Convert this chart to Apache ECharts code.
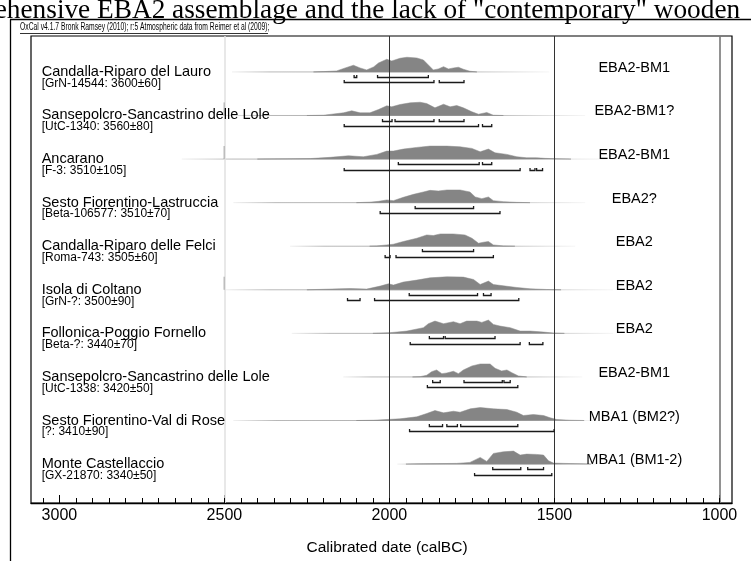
<!DOCTYPE html>
<html><head><meta charset="utf-8">
<script src="https://cdn.jsdelivr.net/npm/echarts@6/dist/echarts.min.js"></script>
<style>html,body{margin:0;padding:0;background:#fff;overflow:hidden}#c{width:751px;height:561px}</style>
</head><body><div id="c"></div>
<script>
// ---------- data ----------
const sites = ['Candalla-Riparo del Lauro','Sansepolcro-Sancastrino delle Lole','Ancarano','Sesto Fiorentino-Lastruccia','Candalla-Riparo delle Felci','Isola di Coltano','Follonica-Poggio Fornello','Sansepolcro-Sancastrino delle Lole','Sesto Fiorentino-Val di Rose','Monte Castellaccio'];
const labCodes = ['[GrN-14544: 3600±60]','[UtC-1340: 3560±80]','[F-3: 3510±105]','[Beta-106577: 3510±70]','[Roma-743: 3505±60]','[GrN-?: 3500±90]','[Beta-?: 3440±70]','[UtC-1338: 3420±50]','[?: 3410±90]','[GX-21870: 3340±50]'];
const periods = ['EBA2-BM1','EBA2-BM1?','EBA2-BM1','EBA2?','EBA2','EBA2','EBA2','EBA2-BM1','MBA1 (BM2?)','MBA1 (BM1-2)'];
const tickLabels = [3000, 2500, 2000, 1500, 1000];
const tickValues50 = [1000,1050,1100,1150,1200,1250,1300,1350,1400,1450,1500,1550,1600,1650,1700,1750,1800,1850,1900,1950,2000,2050,2100,2150,2200,2250,2300,2350,2400,2450,2500,2550,2600,2650,2700,2750,2800,2850,2900,2950,3000,3050];

// calibrated probability (relative density) per site: [calBC, density]
const densLauro = [[2230,0],[2200,0.3],[2160,1],[2134,4],[2109,6.7],[2089,4],[2069,2],[2048,5],[2033,9],[2008,12.7],[1993,11],[1968,13.7],[1947,14.7],[1917,14],[1897,12],[1882,7],[1867,2],[1852,3],[1836,5.3],[1821,3],[1806,4],[1791,4.7],[1776,2.7],[1756,0.7],[1735,0]];
const densLole1340 = [[2250,0],[2200,0.3],[2139,2.7],[2114,4.7],[2089,2.7],[2059,2.7],[2033,6],[2008,9.7],[1993,8.7],[1968,11],[1937,12.7],[1907,13.3],[1887,12],[1862,7.7],[1836,11.3],[1816,8.7],[1796,10],[1776,7.7],[1750,3.7],[1730,1.3],[1705,3],[1685,0.3],[1655,0]];
const densAncarano = [[2400,0],[2301,0.3],[2240,0.5],[2180,1.7],[2124,3.3],[2079,2.3],[2038,4.7],[2008,8],[1988,8],[1958,10],[1917,11.7],[1877,13],[1826,13],[1786,12.3],[1750,10.7],[1725,7.3],[1700,10],[1680,6.3],[1644,4.7],[1614,2.3],[1584,1.3],[1554,1.3],[1528,0.7],[1493,0.3],[1450,0]];
const densLastruccia = [[2100,0],[2060,0.5],[2033,1.3],[2008,2.7],[1988,2],[1958,5.3],[1927,8.3],[1897,10.7],[1877,12.3],[1852,11.7],[1826,12.7],[1786,12.7],[1756,10.7],[1740,5.7],[1720,4],[1700,5.7],[1685,2],[1655,1],[1614,0.3],[1574,0]];
const densFelci = [[2060,0],[2038,0.3],[2008,1.3],[1988,2],[1958,4.7],[1917,8],[1887,11.3],[1867,10.7],[1846,12.3],[1806,12.3],[1771,11.3],[1750,8],[1730,3],[1715,4],[1700,4.7],[1685,1.3],[1655,0.3],[1620,0]];
const densColtano = [[2250,0],[2150,1],[2119,1.3],[2069,0.7],[2028,3.7],[2003,6],[1988,4.7],[1958,7.7],[1917,9.7],[1877,12],[1826,13],[1776,12.7],[1745,10.3],[1725,5.3],[1700,8.7],[1685,5.3],[1655,4],[1614,2.3],[1574,1],[1523,0.3],[1480,0]];
const densFollonica = [[2050,0],[1998,0.7],[1947,2.3],[1897,5.7],[1882,9.7],[1862,12.3],[1836,9.7],[1806,11.7],[1786,9.7],[1766,12.3],[1735,12.3],[1720,11],[1700,13.3],[1685,9],[1665,7.3],[1634,5.7],[1604,2.3],[1574,2.3],[1533,1.3],[1503,0.3],[1470,0]];
const densLole1338 = [[1930,0],[1907,0.3],[1887,1.7],[1872,5.3],[1857,7],[1841,3.3],[1826,4],[1806,5.7],[1791,3.3],[1776,7],[1750,11],[1725,13],[1695,13],[1680,8.7],[1660,6],[1644,7],[1629,4.3],[1609,1],[1584,0]];
const densValdiRose = [[2100,0],[2048,0.3],[1968,1.7],[1917,3.7],[1887,7],[1862,10],[1836,7.7],[1806,9.3],[1786,8.3],[1755,11.7],[1725,13],[1685,11.7],[1644,11],[1614,8.3],[1594,5],[1564,6],[1533,5],[1513,2.7],[1493,1],[1453,0.3],[1410,0]];
const densCastellaccio = [[1950,0],[1897,0.3],[1796,0.7],[1756,1.7],[1725,6.7],[1705,2.7],[1685,10.7],[1655,12.3],[1624,13],[1604,9],[1584,10],[1554,9.7],[1533,9],[1518,3.3],[1503,1],[1473,0.7],[1422,0.3],[1390,0]];

// 68.2% ranges [row, from, to]
const range68 = [[0,2107,2099],[0,2036,1882],[1,2021,1992],[1,1983,1865],[1,1849,1774],[2,1973,1728],[2,1718,1690],[3,1922,1745],[4,1900,1745],[5,1940,1733],[5,1715,1692],[6,1879,1836],[6,1831,1680],[7,1869,1846],[7,1774,1658],[7,1653,1634],[8,1879,1839],[8,1826,1794],[8,1784,1611],[9,1687,1602],[9,1581,1533]];
// 95.4% ranges [row, from, to]
const range95 = [[0,2137,1865],[0,1849,1774],[1,2137,1730],[1,1718,1690],[2,2137,1604],[2,1574,1559],[2,1554,1536],[3,2028,1665],[4,2013,1998],[4,1980,1685],[5,2127,2089],[5,2045,1608],[6,1937,1604],[6,1576,1535],[7,1885,1611],[8,1939,1501],[9,1742,1508]];
// extent of the plotted calibration line [from, to]
const baselineSpans = [[2477,1516],[2512,1407],[2629,1343],[2473,1407],[2301,1437],[2501,1322],[2296,1322],[2140,1416],[2473,1383],[1976,1371]];
// rows with a start marker at 2500 calBC
const startMarks = [[1,2500],[2,2500],[5,2500]];

// ---------- chart ----------
const densities = [densLauro,densLole1340,densAncarano,densLastruccia,densFelci,densColtano,densFollonica,densLole1338,densValdiRose,densCastellaccio];
const XMIN = 962, XMAX = 3086;
const YMIN = -0.8244, YMAX = 9.893;
const DENSITY_SCALE = 1 / 43.67;
const FONT = 'Liberation Sans';

const chart = echarts.init(document.getElementById('c'), null, {renderer: 'canvas'});

function renderBaseline(params, api) {
  const i = api.value(0);
  const s = baselineSpans[i];
  const p1 = api.coord([s[0], i]), p2 = api.coord([s[1], i]);
  const g = new echarts.graphic.LinearGradient(p1[0], 0, p2[0], 0, [
    {offset: 0, color: 'rgba(160,160,160,0.15)'},
    {offset: 0.12, color: 'rgba(160,160,160,0.75)'},
    {offset: 0.7, color: 'rgba(160,160,160,0.85)'},
    {offset: 1, color: 'rgba(170,170,170,0.1)'}
  ], true);
  return {type: 'line', shape: {x1: p1[0], y1: p1[1], x2: p2[0], y2: p2[1]}, style: {stroke: g, lineWidth: 1}};
}
function renderDist(params, api) {
  const i = api.value(0);
  const d = densities[i];
  const pts = [api.coord([d[0][0], i])];
  d.forEach(p => pts.push(api.coord([p[0], i - p[1] * DENSITY_SCALE])));
  pts.push(api.coord([d[d.length - 1][0], i]));
  return {type: 'polygon', shape: {points: pts}, style: {fill: '#858585', stroke: '#8a8a8a', lineWidth: 0.5}};
}
function makeRange(off) {
  return function (params, api) {
    const row = api.value(0);
    const a = api.coord([api.value(1), row + off]);
    const b = api.coord([api.value(2), row + off]);
    const y = Math.round(a[1]) + 0.5;
    return {type: 'polyline', shape: {points: [[a[0], y - 2.6], [a[0], y], [b[0], y], [b[0], y - 2.6]]},
      style: {stroke: '#1a1a1a', lineWidth: 1.3, fill: null}};
  };
}
function renderMark(params, api) {
  const row = api.value(0);
  const a = api.coord([api.value(1), row]);
  const b = api.coord([api.value(1), row - 0.3]);
  return {type: 'line', shape: {x1: a[0], y1: a[1], x2: b[0], y2: b[1]}, style: {stroke: '#555', lineWidth: 1.2}};
}
// minor ticks drawn in the same way as the (working) start marks: [row, year]
function renderMinorTick(params, api) {
  const a = api.coord([api.value(1), api.value(0)]);
  const x = Math.round(a[0]) + 0.5;
  return {type: 'rect', shape: {x: x - 0.5, y: a[1] - 5, width: 1, height: 5}, style: {fill: '#000'}};
}
function renderLabels(params, api) {
  const i = api.value(0);
  const base = api.coord([XMAX, i]);
  const per = api.coord([1258, i]);
  return {type: 'group', children: [
    {type: 'text', x: base[0] + 10.7, y: base[1], style: {text: sites[i], fill: '#000', font: '14.5px ' + FONT, verticalAlign: 'middle', align: 'left'}},
    {type: 'text', x: base[0] + 10.7, y: base[1] + 11.5, style: {text: labCodes[i], fill: '#000', font: '12px ' + FONT, verticalAlign: 'middle', align: 'left'}},
    {type: 'text', x: per[0], y: per[1] - 4, style: {text: periods[i], fill: '#000', font: '14.5px ' + FONT, verticalAlign: 'middle', align: 'center'}}
  ]};
}

const rowsData = sites.map((s, i) => [i]);
const tickData = tickValues50.map(v => [YMAX, v]);

const option = {
  animation: false,
  backgroundColor: '#fff',
  grid: {left: 31, right: 19, top: 36, bottom: 57, show: true, borderColor: '#000', borderWidth: 1.2, containLabel: false},
  xAxis: {
    type: 'value', min: XMIN, max: XMAX, inverse: true, position: 'bottom',
    axisLine: {show: true, onZero: false, lineStyle: {color: '#000', width: 1.3}},
    axisTick: {show: true, inside: true, length: 8, customValues: tickLabels, lineStyle: {color: '#000', width: 1}},
    axisLabel: {show: true, customValues: tickLabels, formatter: v => String(v), margin: 5, color: '#000', fontSize: 16, fontFamily: FONT},
    splitLine: {show: false},
    name: 'Calibrated date (calBC)', nameLocation: 'middle', nameGap: 37,
    nameTextStyle: {color: '#000', fontSize: 15.5, fontFamily: FONT, padding: [0, 0, 0, 11]}
  },
  yAxis: {type: 'value', min: YMIN, max: YMAX, inverse: true, show: false},
  series: [
    {type: 'custom', name: 'line', renderItem: renderBaseline, data: rowsData, z: 2, clip: false},
    {type: 'custom', name: 'probability', renderItem: renderDist, data: rowsData, z: 3},
    {type: 'custom', name: 'start', renderItem: renderMark, data: startMarks, z: 3},
    {type: 'line', data: [], z: 4, markLine: {symbol: 'none', silent: true, label: {show: false}, animation: false,
      data: [
        {xAxis: 2500, lineStyle: {color: '#e0e0e0', width: 1.5, type: 'solid'}},
        {xAxis: 2000, lineStyle: {color: '#333', width: 1, type: 'solid'}},
        {xAxis: 1500, lineStyle: {color: '#333', width: 1, type: 'solid'}},
        {xAxis: 1000, lineStyle: {color: '#777', width: 1.6, type: 'solid'}}
      ]}},
    {type: 'custom', name: 'ticks', renderItem: renderMinorTick, data: tickData, z: 8, clip: false},
    {type: 'custom', name: '68.2%', renderItem: makeRange(0.115), data: range68, z: 5},
    {type: 'custom', name: '95.4%', renderItem: makeRange(0.24), data: range95, z: 5},
    {type: 'custom', name: 'labels', renderItem: renderLabels, data: rowsData, z: 6, clip: false}
  ],
  graphic: [
    {type: 'text', left: -75, top: -3, style: {text: 'comprehensive EBA2 assemblage and the lack of "contemporary" wooden', font: '27.3px Liberation Serif', fill: '#000'}},
    {type: 'line', shape: {x1: 10, y1: 19.5, x2: 751, y2: 19.5}, style: {stroke: '#000', lineWidth: 1.3}},
    {type: 'line', shape: {x1: 10.5, y1: 19.5, x2: 10.5, y2: 561}, style: {stroke: '#000', lineWidth: 1.3}},
    {type: 'text', x: 20, y: 22.5, scaleX: 0.675, style: {text: 'OxCal v4.1.7 Bronk Ramsey (2010); r:5 Atmospheric data from Reimer et al (2009);', font: '10px ' + FONT, fill: '#000'}},
    {type: 'line', shape: {x1: 20, y1: 33.5, x2: 268, y2: 33.5}, style: {stroke: '#000', lineWidth: 0.8}}
  ]
};
chart.setOption(option);
</script></body></html>
